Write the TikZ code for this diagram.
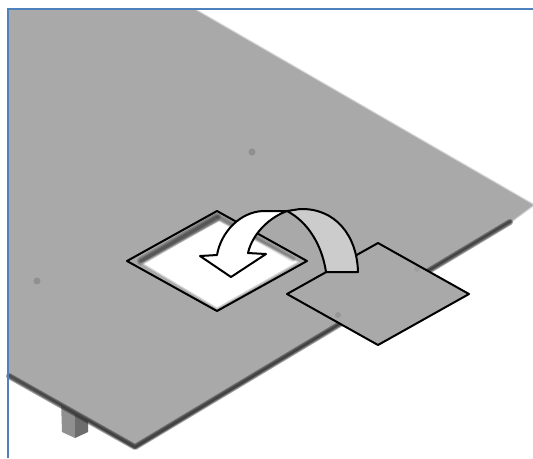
\documentclass[tikz,border=0pt]{standalone}
\usepackage{xcolor}
\definecolor{plGray}{HTML}{A9A9A9}
\definecolor{plDark}{HTML}{2E2E2E}
\definecolor{plBand}{HTML}{CCCCCC}
\definecolor{plFrame}{HTML}{4F81BD}
\tikzset{
  softline/.style={line cap=round,line join=round,opacity=0.3},
  outline/.style={draw=black,line width=0.04cm,line join=round}
}
\begin{document}
\begin{tikzpicture}[x=0.02cm,y=-0.02cm]
  \useasboundingbox (0,0) rectangle (533,458);
  \fill[white] (0,0) rectangle (533,458);
  % pied sous la plaque
  \fill[plGray!85!black] (61,400) -- (75,410) -- (75,438) -- (62,432) -- cycle;
  \fill[plDark!70] (75,410) -- (88,420) -- (88,432) -- (75,438) -- cycle;
  % plaque
  \fill[plGray] (9,10) -- (195,10) -- (533,205) -- (510,222) -- (135,449) -- (9,375) -- cycle;
  \foreach \w in {1,2,3} {\draw[plGray,softline,line width=\w*0.02cm] (195,10) -- (533,205) -- (510,222);}
  % chant sombre
  \foreach \w in {2,4,6} {\draw[plDark,softline,opacity=0.45,line width=\w*0.02cm] (9,376) -- (135,447) -- (510,222);}
  % petits trous
  \foreach \x/\y in {252/152,37/281} {\fill[plDark,opacity=0.2] (\x,\y) circle (3.5);}
  % ouverture
  \fill[white] (140,263) -- (219,220) -- (300,262) -- (217,309) -- cycle;
  \foreach \w in {1,2,3} {\draw[plGray,softline,line width=\w*0.02cm] (140,263) -- (219,220) -- (300,262) -- (217,309) -- cycle;}
  \fill[plGray] (127,261) -- (217,211) -- (222,219) -- (138,263) -- cycle;
  \fill[plGray] (217,211) -- (307,261) -- (298,261) -- (220,219) -- cycle;
  \foreach \w in {3,5,8} {\draw[plDark,softline,line width=\w*0.02cm] (141,261) -- (217,217);}
  \foreach \w in {2,4,6} {\draw[plDark,softline,opacity=0.12,line width=\w*0.02cm] (219,217) -- (293,259);}
  \draw[outline] (127,261) -- (217,211) -- (307,261) -- (217,311) -- cycle;
  % couvercle
  \filldraw[outline,fill=plGray] (287,294) -- (378,243) -- (469,294) -- (378,345) -- cycle;
  \fill[plDark,opacity=0.15] (338,315) circle (3);
  \fill[plDark,opacity=0.08] (417,269) circle (3);
  % fleche
  \filldraw[outline,fill=plBand] (326,272) .. controls (322,245) and (308,222) .. (287,211)
    -- (300,209) .. controls (335,208) and (357,235) .. (358,272) -- cycle;
  \filldraw[outline,fill=white] (287,211) -- (263,211) .. controls (240,212) and (221,232) .. (217,255)
    -- (200,256) -- (231,277) -- (266,254) -- (248,253) .. controls (252,235) and (268,218) .. (287,211) -- cycle;
  % cadre
  \draw[plFrame,line width=0.04cm] (8,458) -- (8,9) -- (533,9);
\end{tikzpicture}
\end{document}
